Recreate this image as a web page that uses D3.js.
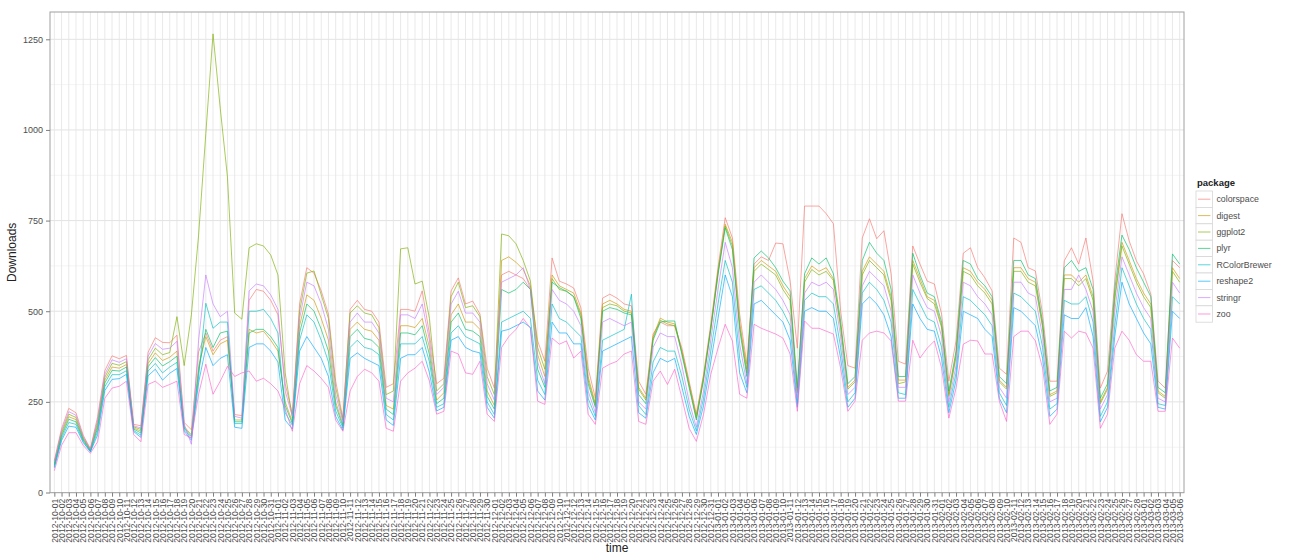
<!DOCTYPE html>
<html lang="en">
<head>
  <meta charset="UTF-8">
  <title>Package downloads</title>
  <style>
    body { margin: 0; background: #fff; }
  </style>
</head>
<body>
  <script src="https://d3js.org/d3.v7.min.js"></script>
  <script>
    const [width, height] = [1289, 554];
    const panel = { left: 50, right: 1184, top: 12, bottom: 492.7 };

    // categories: one per day, 2012-10-01 .. 2013-03-06
    const days = d3.utcDay.range(new Date(Date.UTC(2012, 9, 1)), new Date(Date.UTC(2013, 2, 7)));
    const dayLabels = days.map(d3.utcFormat("%Y-%m-%d"));

    const packages = ["colorspace", "digest", "ggplot2", "plyr", "RColorBrewer", "reshape2", "stringr", "zoo"];
    const yTicks = [0, 250, 500, 750, 1000, 1250];

    const colorspace = [88,176,232,220,158,121,209, 336,377,369,378,188,184,387, 427,414,413,434,193,173,388,
      440,390,420,430,215,212,530, 560,555,530,490,300,216,520, 620,605,556,492,307,205,505,
      530,505,500,470,290,300,505, 505,500,556,437,300,315,556, 592,520,528,492,343,288,600,
      610,600,590,560,418,362,647, 583,575,564,509,343,260,536, 547,536,520,515,307,271,437,
      470,460,460,398,307,216,326, 464,620,758,702,492,354,630, 650,640,688,686,583,398,790,
      790,790,769,741,500,350,343, 702,755,700,722,603,362,354, 680,630,583,575,492,307,418,
      660,675,620,592,556,343,326, 702,690,620,611,492,307,307, 639,675,630,702,583,288,335,
      583,769,694,639,603,547,307, 288,640,620];
    const digest = [78,160,209,201,148,116,185, 310,346,343,353,178,169,356, 385,364,373,390,182,159,347,
      430,380,410,420,200,200,450, 440,445,420,390,250,195,460, 545,530,480,420,250,188,450,
      470,450,445,420,240,230,460, 460,455,480,400,255,275,490, 520,470,470,450,280,240,640,
      650,635,615,570,380,320,600, 570,560,550,495,320,245,520, 530,520,505,500,290,260,430,
      481,470,465,390,300,210,320, 455,610,740,690,470,340,620, 640,625,610,570,540,280,590,
      625,610,620,590,460,290,310, 610,650,630,610,540,310,310, 640,590,540,530,460,270,380,
      620,610,580,560,530,310,290, 620,620,590,580,460,270,280, 600,600,580,600,540,250,290,
      540,690,640,590,550,520,280, 265,620,590];
    const ggplot2 = [81,165,216,207,151,118,193, 318,356,351,361,181,174,366, 398,380,386,485,350,490,710,
      990,1265,1060,870,495,478,675, 686,680,655,600,330,205,500, 605,611,545,480,290,200,495,
      515,495,490,455,270,280,672, 675,575,583,480,280,300,540, 580,510,515,485,320,270,713,
      708,686,640,583,400,340,590, 560,555,540,490,310,240,510, 520,515,500,495,285,255,425,
      475,465,460,385,295,205,315, 450,605,735,680,460,330,610, 630,615,600,560,530,275,580,
      615,600,610,585,455,285,305, 600,640,620,600,530,300,305, 630,580,535,520,455,265,375,
      610,600,570,550,520,305,285, 610,610,580,570,455,265,275, 590,590,570,590,530,245,285,
      530,680,630,580,540,510,275, 260,610,580];
    const plyr = [75,155,202,195,145,115,178, 302,337,335,346,175,164,347, 372,349,361,376,178,155,335,
      450,400,440,445,195,195,440, 450,450,430,400,240,190,440, 520,500,450,390,240,183,430,
      450,425,420,400,230,215,440, 440,435,460,380,245,260,470, 495,450,445,430,265,230,560,
      550,560,580,560,340,290,580, 565,555,540,480,300,235,500, 510,505,495,490,270,245,420,
      470,473,473,380,290,200,310, 450,600,730,670,450,320,647, 666,647,620,583,556,288,603,
      647,630,647,603,473,300,320, 640,690,660,640,560,320,320, 660,600,550,540,470,280,390,
      640,630,590,570,540,320,300, 640,640,600,590,470,280,290, 620,640,610,620,560,260,300,
      560,710,670,620,580,540,290, 275,658,630];
    const RColorBrewer = [71,149,193,188,141,113,169, 292,325,325,336,171,158,335, 356,330,346,359,174,150,319,
      522,453,470,470,190,190,500, 500,505,480,440,220,185,420, 490,470,420,360,225,178,400,
      420,400,395,380,215,200,410, 410,410,430,360,235,245,440, 460,430,420,410,250,215,470,
      480,490,500,480,310,270,520, 480,470,450,430,260,210,420, 430,440,450,547,240,215,360,
      400,390,390,320,230,170,260, 390,520,640,580,370,290,560, 570,550,530,500,460,245,530,
      550,540,540,520,400,250,275, 550,580,560,530,470,275,270, 560,520,480,470,400,235,330,
      540,530,510,490,460,275,240, 550,540,520,500,400,230,245, 530,520,520,540,470,210,250,
      460,620,570,520,480,450,245, 240,540,520];
    const reshape2 = [68,143,183,180,138,112,159, 281,312,314,326,168,152,322, 340,310,329,342,169,144,303,
      400,350,370,380,180,177,400, 410,410,390,360,200,175,390, 430,400,370,320,210,172,370,
      385,370,360,350,200,185,370, 380,380,400,330,225,235,420, 430,400,390,385,235,205,445,
      450,460,470,455,280,255,470, 440,440,410,410,240,200,390, 400,410,420,430,220,205,330,
      370,360,370,290,210,160,240, 360,480,600,540,330,275,520, 530,510,490,470,420,235,500,
      510,500,500,480,370,235,260, 520,540,520,490,430,260,260, 520,480,450,445,370,220,310,
      500,490,480,450,430,260,220, 510,500,480,460,370,210,230, 490,480,480,510,430,195,235,
      430,580,520,480,440,410,235, 230,500,480];
    const stringr = [84,170,223,213,154,119,200, 326,366,359,369,184,178,376, 411,395,398,417,189,133,420,
      600,520,485,500,210,205,556, 575,570,545,505,280,210,480, 580,570,520,450,270,195,470,
      495,470,470,440,260,250,490, 490,480,520,420,270,290,520, 555,495,495,470,300,255,580,
      590,600,620,560,360,300,560, 530,520,500,460,280,220,470, 480,470,460,470,250,230,400,
      440,430,430,350,250,180,280, 420,560,690,620,410,300,580, 600,580,560,530,490,260,550,
      580,570,580,560,430,270,290, 570,610,590,570,500,290,290, 600,550,510,500,430,250,350,
      580,570,540,520,490,290,260, 580,580,550,540,430,250,260, 560,560,600,560,500,230,270,
      500,650,600,550,510,480,260, 250,580,550];
    const zoo = [60,130,165,165,130,108,140, 260,288,293,307,160,140,298, 307,290,298,307,160,150,271,
      354,271,307,348,320,330,335, 307,315,300,280,230,169,300, 350,335,315,290,200,169,280,
      320,340,330,307,177,169,307, 330,343,362,307,216,224,390, 382,330,326,362,216,196,400,
      430,450,480,453,252,243,426, 409,418,371,390,216,188,343, 354,362,382,390,196,188,307,
      335,298,340,260,177,141,216, 326,398,464,418,271,260,464, 453,445,437,426,382,224,473,
      453,453,445,437,343,224,252, 420,440,445,440,418,252,252, 420,371,398,418,343,205,288,
      409,420,418,382,382,252,196, 430,445,445,418,343,188,216, 445,426,445,440,398,177,216,
      398,445,420,380,362,362,224, 224,426,398];

    const seriesValues = [colorspace, digest, ggplot2, plyr, RColorBrewer, reshape2, stringr, zoo];
    const series = packages.map((name, k) => ({ name, values: seriesValues[k] }));

    // ggplot2 default hue palette for 8 levels
    const color = d3.scaleOrdinal()
      .domain(packages)
      .range(["#F8766D", "#CD9600", "#7CAE00", "#00BE67", "#00BFC4", "#00A9FF", "#C77CFF", "#FF61CC"]);

    const x = d3.scalePoint()
      .domain(dayLabels)
      .range([panel.left, panel.right])
      .padding(0.6);

    const y = d3.scaleLinear()
      .domain([0, 1250])
      .range([492.5, 39.3]);

    const svg = d3.select(document.body)
      .append("svg")
      .attr("width", width)
      .attr("height", height)
      .attr("viewBox", [0, 0, width, height])
      .attr("font-family", "'Liberation Sans', Arial, sans-serif");

    // panel grid
    const grid = svg.append("g");
    grid.selectAll("line.minor")
      .data(d3.range(125, 1325, 250))
      .join("line")
      .attr("x1", panel.left).attr("x2", panel.right)
      .attr("y1", d => y(d)).attr("y2", d => y(d))
      .attr("stroke", "#f4f4f4");
    grid.selectAll("line.hmajor")
      .data(yTicks)
      .join("line")
      .attr("x1", panel.left).attr("x2", panel.right)
      .attr("y1", d => y(d)).attr("y2", d => y(d))
      .attr("stroke", "#e3e3e3");
    grid.append("g")
      .selectAll("line")
      .data(dayLabels)
      .join("line")
      .attr("x1", d => x(d)).attr("x2", d => x(d))
      .attr("y1", panel.top).attr("y2", panel.bottom)
      .attr("stroke", "#e3e3e3")
      .attr("stroke-width", 0.8);

    // lines
    const line = d3.line()
      .x((v, i) => x(dayLabels[i]))
      .y(v => y(v));

    svg.append("g")
      .attr("fill", "none")
      .selectAll("path")
      .data(series)
      .join("path")
      .attr("stroke", d => color(d.name))
      .attr("stroke-width", 0.9)
      .attr("stroke-opacity", 0.72)
      .attr("d", d => line(d.values));

    // panel border
    svg.append("rect")
      .attr("x", panel.left).attr("y", panel.top)
      .attr("width", panel.right - panel.left)
      .attr("height", panel.bottom - panel.top)
      .attr("fill", "none")
      .attr("stroke", "#a0a0a0");

    // y axis
    svg.append("g")
      .attr("transform", `translate(${panel.left},0)`)
      .call(d3.axisLeft(y).tickValues(yTicks).tickSize(4).tickPadding(3).tickFormat(d3.format("d")))
      .call(g => g.select(".domain").remove())
      .call(g => g.selectAll(".tick line").attr("stroke", "#7f7f7f"))
      .call(g => g.selectAll(".tick text")
        .attr("fill", "#4d4d4d")
        .attr("font-size", 9)
        .attr("font-family", "'Liberation Sans', Arial, sans-serif"));

    // x axis
    svg.append("g")
      .attr("transform", `translate(0,${panel.bottom})`)
      .call(d3.axisBottom(x).tickSize(4).tickPadding(2))
      .call(g => g.select(".domain").remove())
      .call(g => g.selectAll(".tick line").attr("stroke", "#7f7f7f"))
      .call(g => g.selectAll(".tick text")
        .attr("fill", "#4d4d4d")
        .attr("font-size", 8.6)
        .attr("font-family", "'Liberation Sans', Arial, sans-serif")
        .attr("text-anchor", "end")
        .attr("dy", "0.32em")
        .attr("transform", "translate(0,6) rotate(-90)")
        .attr("x", 0)
        .attr("y", 0));

    // axis titles
    svg.append("text")
      .attr("x", (panel.left + panel.right) / 2)
      .attr("y", 552)
      .attr("text-anchor", "middle")
      .attr("font-size", 12)
      .attr("fill", "#222")
      .text("time");

    svg.append("text")
      .attr("transform", `translate(16,${(panel.top + panel.bottom) / 2}) rotate(-90)`)
      .attr("text-anchor", "middle")
      .attr("font-size", 12)
      .attr("fill", "#222")
      .text("Downloads");

    // legend
    const legend = svg.append("g").attr("transform", "translate(1196,0)");
    legend.append("text")
      .attr("x", 1)
      .attr("y", 186)
      .attr("font-size", 9.5)
      .attr("font-weight", "bold")
      .attr("fill", "#222")
      .text("package");

    const keySize = 16.4;
    const item = legend.selectAll("g.item")
      .data(packages)
      .join("g")
      .attr("class", "item")
      .attr("transform", (d, i) => `translate(0,${191 + i * keySize})`);
    item.append("rect")
      .attr("width", keySize)
      .attr("height", keySize)
      .attr("fill", "#fff")
      .attr("stroke", "#d6d6d6")
      .attr("stroke-width", 0.8);
    item.append("line")
      .attr("x1", 2).attr("x2", keySize - 2)
      .attr("y1", keySize / 2).attr("y2", keySize / 2)
      .attr("stroke", d => color(d))
      .attr("stroke-width", 0.9)
      .attr("stroke-opacity", 0.72);
    item.append("text")
      .attr("x", keySize + 4)
      .attr("y", keySize / 2)
      .attr("dy", "0.35em")
      .attr("font-size", 8.8)
      .attr("fill", "#4d4d4d")
      .text(d => d);
  </script>
</body>
</html>
